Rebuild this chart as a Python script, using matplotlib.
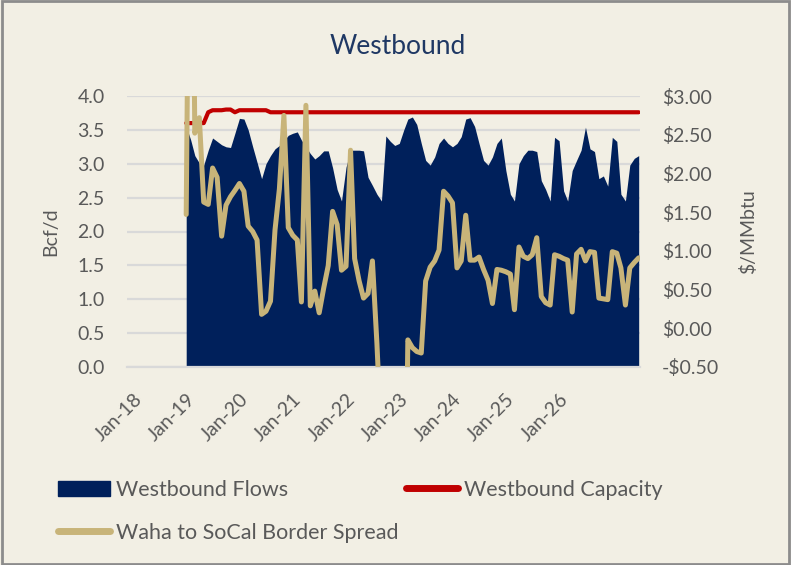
import matplotlib
matplotlib.use("Agg")
import matplotlib.pyplot as plt
import matplotlib.transforms as mtrans
from matplotlib.patches import Patch, Rectangle
from matplotlib.lines import Line2D
import pandas as pd
import numpy as np

# ---------------- data ----------------
months = pd.date_range("2019-01-01", periods=103, freq="MS")

flows = [3.55, 3.35, 3.12, 3.01, 2.98, 3.20, 3.38, 3.33, 3.28, 3.25,
         3.24, 3.45, 3.67, 3.66, 3.50, 3.25, 3.02, 2.78, 3.00, 3.12,
         3.22, 3.27, 3.34, 3.42, 3.45, 3.47, 3.35, 3.25, 3.15, 3.07,
         3.12, 3.19, 3.19, 2.94, 2.62, 2.45, 2.95, 3.20, 3.20, 3.20,
         3.19, 2.80, 2.68, 2.55, 2.45, 3.41, 3.33, 3.27, 3.30, 3.50,
         3.66, 3.69, 3.58, 3.30, 3.05, 2.98, 3.10, 3.30, 3.38, 3.30,
         3.25, 3.30, 3.40, 3.66, 3.68, 3.55, 3.30, 3.05, 2.98, 3.10,
         3.30, 3.38, 2.90, 2.55, 2.45, 3.00, 3.12, 3.20, 3.20, 3.18,
         2.75, 2.62, 2.45, 3.39, 3.34, 2.60, 2.45, 2.90, 3.05, 3.20,
         3.54, 3.22, 3.18, 2.78, 2.82, 2.67, 3.39, 3.33, 2.55, 2.45,
         2.98, 3.08, 3.12]

capacity = [3.60, 3.60, 3.60, 3.60, 3.60, 3.76, 3.79, 3.79, 3.79, 3.80,
            3.80, 3.76, 3.79, 3.79, 3.79, 3.79, 3.79, 3.79, 3.79] + [3.76] * 84

spread = [1.47, 8.00, 2.52, 2.72, 1.63, 1.60, 2.07, 1.95, 1.19, 1.59,
          1.70, 1.78, 1.87, 1.77, 1.32, 1.25, 1.14, 0.18, 0.22, 0.35,
          1.27, 1.80, 2.75, 1.30, 1.20, 1.14, 0.34, 2.88, 0.29, 0.48,
          0.20, 0.52, 0.81, 1.51, 1.34, 0.75, 0.80, 2.30, 0.90, 0.61,
          0.39, 0.45, 0.87, -0.20, -1.50, -2.00, -2.50, -3.00, -3.50, -4.00,
          -0.15, -0.25, -0.30, -0.32, 0.61, 0.79, 0.87, 1.01, 1.77, 1.71,
          1.62, 0.78, 0.87, 1.46, 0.88, 0.88, 0.92, 0.76, 0.62, 0.32,
          0.76, 0.75, 0.73, 0.70, 0.24, 1.05, 0.93, 0.90, 0.95, 1.17,
          0.41, 0.33, 0.30, 0.95, 0.93, 0.90, 0.88, 0.21, 0.96, 1.02,
          0.87, 0.99, 0.98, 0.39, 0.38, 0.37, 0.99, 0.97, 0.78, 0.30,
          0.78, 0.85, 0.91]

tick_years = [2018, 2019, 2020, 2021, 2022, 2023, 2024, 2025, 2026]
tick_labels = ["Jan-18", "Jan-19", "Jan-20", "Jan-21", "Jan-22",
               "Jan-23", "Jan-24", "Jan-25", "Jan-26"]
left_ticks = [0.0, 0.5, 1.0, 1.5, 2.0, 2.5, 3.0, 3.5, 4.0]
right_ticks = [-0.5, 0.0, 0.5, 1.0, 1.5, 2.0, 2.5, 3.0]

# ---------------- style ----------------
BG = "#F2EFE4"
NAVY = "#00205B"
RED = "#C00000"
GOLD = "#C8B479"
GRID = "#D9D9D9"
TXT = "#595959"
FONT = ["Lato", "DejaVu Sans"]
plt.rcParams["font.family"] = FONT

W, H = 791, 565
fig = plt.figure(figsize=(W / 100, H / 100), dpi=100, facecolor=BG)

ax = fig.add_axes([127 / W, 1 - 367 / H, 513 / W, 271 / H])
ax.set_facecolor("none")

ax.fill_between(months, flows, 0, color=NAVY, linewidth=0, zorder=2)
ax.plot(months, capacity, color=RED, lw=3.0, solid_capstyle="round", zorder=3)

ax.set_ylim(0, 4.0)
ax.set_yticks(left_ticks)
ax.set_yticklabels([f"{v:.1f}" for v in left_ticks])
ax.grid(axis="y", color=GRID, lw=1.6, zorder=0)
ax.set_axisbelow(True)

xmin = pd.Timestamp("2017-11-21")
xmax = pd.Timestamp("2027-07-10")
ax.set_xlim(xmin, xmax)
ax.set_xticks([pd.Timestamp(f"{y}-01-01") for y in tick_years])
ax.set_xticklabels(tick_labels, rotation=45, ha="right", rotation_mode="anchor")
shift = mtrans.ScaledTranslation(-6 / 100, -4 / 100, fig.dpi_scale_trans)
for lab in ax.get_xticklabels():
    lab.set_transform(lab.get_transform() + shift)

for s in ["top", "left", "right"]:
    ax.spines[s].set_visible(False)
ax.spines["bottom"].set_color(GRID)
ax.spines["bottom"].set_linewidth(1.6)

ax.tick_params(axis="y", length=0, pad=16, labelsize=14, labelcolor=TXT)
ax.tick_params(axis="x", length=0, pad=17, labelsize=14, labelcolor=TXT)
ax.set_ylabel("Bcf/d", fontsize=14, color=TXT, labelpad=13)

ax2 = ax.twinx()
ax2.plot(months, spread, color=GOLD, lw=3.6, solid_joinstyle="round",
         solid_capstyle="round", zorder=4)
ax2.set_ylim(-0.5, 3.0)
ax2.set_yticks(right_ticks)
ax2.set_yticklabels([("-$" if v < 0 else "$") + f"{abs(v):.2f}" for v in right_ticks])
for s in ["top", "left", "right", "bottom"]:
    ax2.spines[s].set_visible(False)
ax2.tick_params(axis="y", length=0, pad=16, labelsize=14, labelcolor=TXT)
ax2.set_ylabel("$/MMbtu", fontsize=14, color=TXT, labelpad=14)

# title
fig.text(398 / W, 1 - 46 / H, "Westbound", ha="center", va="center",
         fontsize=19, color="#1F3864",
         family=["Liberation Sans Narrow", "Lato", "DejaVu Sans"])

# legend
handles = [Patch(facecolor=NAVY, edgecolor=NAVY),
           Line2D([0], [0], color=GOLD, lw=5, solid_capstyle="round"),
           Line2D([0], [0], color=RED, lw=5, solid_capstyle="round")]
labels = ["Westbound Flows", "Waha to SoCal Border Spread", "Westbound Capacity"]
fig.legend(handles, labels, loc="upper left", bbox_to_anchor=(58 / W, 1 - 480 / H),
           ncol=2, frameon=False, fontsize=15.5, labelcolor=TXT,
           handlelength=2.4, handleheight=0.75, handletextpad=0.3,
           columnspacing=0.35, labelspacing=1.05, borderpad=0, borderaxespad=0)

# figure border
fig.patches.append(Rectangle((0.002, 0.002), 0.996, 0.996, transform=fig.transFigure,
                             fill=False, edgecolor="#8C8C8C", lw=2))

fig.savefig("out.png", dpi=100, facecolor=BG)
